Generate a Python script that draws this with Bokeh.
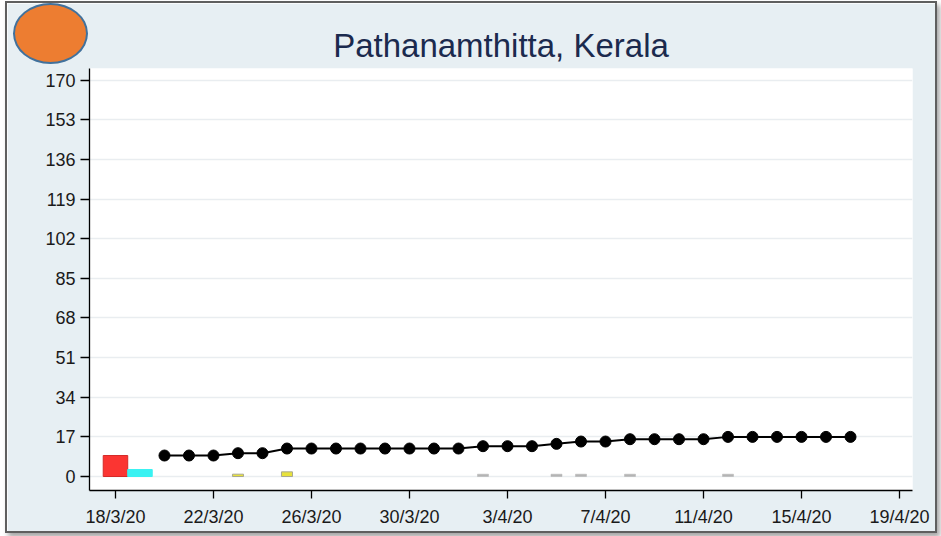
import pandas as pd
from bokeh.plotting import figure
from bokeh.models import Range1d, FixedTicker, ColumnDataSource, InlineStyleSheet
from bokeh.embed import file_html
from bokeh.resources import INLINE

start_date = "2020-03-18"

# cumulative cases (line)
line_dates = ["2020-03-20", "2020-03-21", "2020-03-22", "2020-03-23", "2020-03-24",
              "2020-03-25", "2020-03-26", "2020-03-27", "2020-03-28", "2020-03-29",
              "2020-03-30", "2020-03-31", "2020-04-01", "2020-04-02", "2020-04-03",
              "2020-04-04", "2020-04-05", "2020-04-06", "2020-04-07", "2020-04-08",
              "2020-04-09", "2020-04-10", "2020-04-11", "2020-04-12", "2020-04-13",
              "2020-04-14", "2020-04-15", "2020-04-16", "2020-04-17"]
line_values = [9, 9, 9, 10, 10,
               12, 12, 12, 12, 12,
               12, 12, 12, 13, 13,
               13, 14, 15, 15, 16,
               16, 16, 16, 17, 17,
               17, 17, 17, 17]

# bar series
red_dates = ["2020-03-18"]
red_values = [9]
cyan_dates = ["2020-03-19"]
cyan_values = [3]
yellow_dates = ["2020-03-23", "2020-03-25"]
yellow_values = [1, 2]
gray_dates = ["2020-04-02", "2020-04-05", "2020-04-06", "2020-04-08", "2020-04-12"]
gray_values = [1, 1, 1, 1, 1]

y_ticks = [0, 17, 34, 51, 68, 85, 102, 119, 136, 153, 170]
x_tick_dates = ["2020-03-18", "2020-03-22", "2020-03-26", "2020-03-30", "2020-04-03",
                "2020-04-07", "2020-04-11", "2020-04-15", "2020-04-19"]
x_tick_labels = ["18/3/20", "22/3/20", "26/3/20", "30/3/20", "3/4/20",
                 "7/4/20", "11/4/20", "15/4/20", "19/4/20"]

t0 = pd.Timestamp(start_date)


def day_index(dates):
    return [int((pd.Timestamp(d) - t0).days) for d in dates]


FONT = "Liberation Sans"
BG = "#e7eff3"

badge_css = InlineStyleSheet(css="""
:host { position: relative; }
:host::after {
  content: "";
  position: absolute;
  left: 6px; top: 0px;
  width: 75px; height: 61px;
  box-sizing: border-box;
  border-radius: 50%;
  background: #ed7d31;
  border: 2px solid #41719c;
  z-index: 100;
  pointer-events: none;
}
""")

p = figure(width=928, height=528, output_backend="svg", toolbar_location=None,
           x_range=Range1d(-1.06, 32.53), y_range=Range1d(-6, 175),
           min_border_left=82, min_border_right=23, min_border_top=65, min_border_bottom=41,
           styles={"margin-left": "7px", "margin-top": "3px", "position": "relative",
                   "box-shadow": "0 0 0 2px #5f5f5f, 3px 4px 5px 2px rgba(0,0,0,0.35)"},
           stylesheets=[badge_css])
p.border_fill_color = BG
p.background_fill_color = "white"
p.outline_line_color = None

p.title.text = "Pathanamthitta, Kerala"
p.title.align = "center"
p.title.text_font = FONT
p.title.text_font_size = "33px"
p.title.text_font_style = "normal"
p.title.text_color = "#1b2a4e"

# bars
p.vbar(x=day_index(red_dates), top=red_values, bottom=0, width=1.0,
       fill_color="#fb3532", line_color="#d42a28", line_width=1)
p.vbar(x=day_index(cyan_dates), top=cyan_values, bottom=0, width=1.0,
       fill_color="#39f2f2", line_color="#39f2f2", line_width=1)
p.vbar(x=day_index(yellow_dates), top=yellow_values, bottom=0, width=0.45,
       fill_color="#e8e23a", line_color="#a8a890", line_width=1)
p.vbar(x=day_index(gray_dates), top=gray_values, bottom=0, width=0.45,
       fill_color="#b4b4b4", line_color="#b4b4b4", line_width=0.5)

# line
src = ColumnDataSource(dict(x=day_index(line_dates), y=line_values))
p.line("x", "y", source=src, line_color="black", line_width=2)
p.scatter("x", "y", source=src, size=11, fill_color="black", line_color="black")

# axes
p.xgrid.grid_line_color = None
p.ygrid.grid_line_color = "#e9edf0"
p.ygrid.grid_line_width = 1.5
p.yaxis.ticker = FixedTicker(ticks=y_ticks)
p.xaxis.ticker = FixedTicker(ticks=day_index(x_tick_dates))
p.xaxis.major_label_overrides = {k: v for k, v in zip(day_index(x_tick_dates), x_tick_labels)}
for ax in (p.xaxis, p.yaxis):
    ax.axis_line_color = "black"
    ax.axis_line_width = 1.3
    ax.major_tick_line_color = "black"
    ax.major_tick_line_width = 1.3
    ax.major_tick_in = 0
    ax.minor_tick_line_color = None
    ax.major_label_text_font = FONT
    ax.major_label_text_color = "#1a1a1a"
    ax.major_label_text_font_size = "18px"
p.yaxis.major_tick_out = 9
p.xaxis.major_tick_out = 8
p.yaxis.major_label_standoff = 5
p.xaxis.major_label_standoff = 8

open("out.html", "w").write(file_html(p, INLINE))
